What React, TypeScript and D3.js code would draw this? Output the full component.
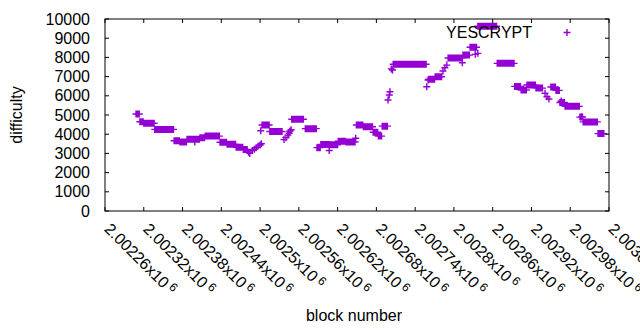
import React from 'react';
import * as d3 from 'd3';

// constant-difficulty stretches: first block, last block, difficulty
const runStart = [
  2002308, 2002314, 2002320, 2002337, 2002367, 2002376, 2002387, 2002407, 2002415, 2002438,
  2002449, 2002463, 2002474, 2002503, 2002515, 2002549, 2002570, 2002588, 2002594, 2002608,
  2002621, 2002633, 2002649, 2002660, 2002675, 2002683, 2002689, 2002706, 2002761, 2002771,
  2002791, 2002814, 2002825, 2002837, 2002867, 2002894, 2002904, 2002913, 2002927, 2002950,
  2002958, 2002964, 2002972, 2002995, 2003000, 2003023,
];
const runEnd = [
  2002313, 2002319, 2002336, 2002366, 2002375, 2002386, 2002406, 2002414, 2002437, 2002448,
  2002462, 2002473, 2002480, 2002514, 2002534, 2002567, 2002587, 2002593, 2002607, 2002620,
  2002632, 2002647, 2002659, 2002674, 2002682, 2002688, 2002697, 2002757, 2002770, 2002781,
  2002813, 2002824, 2002835, 2002866, 2002893, 2002903, 2002912, 2002926, 2002937, 2002957,
  2002963, 2002971, 2002994, 2002999, 2003022, 2003032,
];
const runDifficulty = [
  5050, 4650, 4570, 4250, 3660, 3600, 3740, 3820, 3900, 3580,
  3480, 3320, 3200, 4480, 4140, 4780, 4290, 3300, 3460, 3450,
  3630, 3590, 4480, 4390, 4100, 3900, 4420, 7640, 6860, 6990,
  7970, 8120, 8530, 9620, 7690, 6490, 6300, 6560, 6400, 6460,
  6280, 5650, 5450, 4890, 4640, 4030,
];

// single blocks between the stretches
const pointBlock = [
  2002399, 2002482, 2002484, 2002488, 2002491, 2002494, 2002497, 2002500, 2002501, 2002502,
  2002537, 2002540, 2002543, 2002545, 2002546, 2002548, 2002607, 2002648, 2002698, 2002700,
  2002701, 2002703, 2002705, 2002758, 2002760, 2002783, 2002786, 2002789, 2002813, 2002833,
  2002837, 2002941, 2002944, 2002947, 2002966, 2002998,
];
const pointDifficulty = [
  3600, 3060, 3000, 3150, 3220, 3300, 3380, 3440, 4180, 3500,
  3720, 3820, 3950, 4050, 4150, 4230, 3150, 3790, 5780, 6040,
  6210, 7400, 7340, 6470, 6820, 7290, 7460, 7600, 7720, 8160,
  8210, 6130, 5950, 5830, 5730, 4910,
];

const yTicks = [0, 1000, 2000, 3000, 4000, 5000, 6000, 7000, 8000, 9000, 10000];
const xTicks = [
  2002260, 2002320, 2002380, 2002440, 2002500, 2002560, 2002620, 2002680, 2002740,
  2002800, 2002860, 2002920, 2002980, 2003040,
];

const seriesName = 'YESCRYPT';
const color = '#9400d3';
const font = '"Liberation Sans", Arial, sans-serif';

const left = 105;
const right = 609;
const top = 19;
const bottom = 211;

const plus = (x: number, y: number, r: number) =>
  `M${x - r},${y}H${x + r}M${x},${y - r}V${y + r}`;

export default function App() {
  const x = d3.scaleLinear().domain([2002260, 2003040]).range([left, right]);
  const y = d3.scaleLinear().domain([0, 10000]).range([bottom, top]);

  const points: [number, number][] = [];
  runStart.forEach((s, i) => {
    for (let b = s; b <= runEnd[i]; b++) points.push([b, runDifficulty[i]]);
  });
  pointBlock.forEach((b, i) => points.push([b, pointDifficulty[i]]));

  const markPath = points.map(([b, v]) => plus(x(b), y(v), 3.5)).join('');

  const label = (v: number) => String(parseFloat((v / 1e6).toFixed(5)));

  return (
    <svg
      width={640}
      height={330}
      style={{ position: 'absolute', left: 0, top: 0, background: '#fff' }}
      fontFamily={font}
    >
      <rect width={640} height={330} fill="#fff" />

      <path d={markPath} stroke={color} strokeWidth={1.4} fill="none" />

      {/* frame and ticks */}
      <rect x={left} y={top} width={right - left} height={bottom - top} fill="none" stroke="#000" strokeWidth={1} />
      {yTicks.map((t) => (
        <g key={'y' + t}>
          <line x1={left} x2={left + 4} y1={y(t)} y2={y(t)} stroke="#000" />
          <line x1={right - 4} x2={right} y1={y(t)} y2={y(t)} stroke="#000" />
          <text x={90} y={y(t) + 5.5} textAnchor="end" fontSize={16} fill="#000">
            {t}
          </text>
        </g>
      ))}
      {xTicks.map((t) => (
        <g key={'x' + t}>
          <line x1={x(t)} x2={x(t)} y1={bottom} y2={bottom - 4} stroke="#000" />
          <line x1={x(t)} x2={x(t)} y1={top} y2={top + 4} stroke="#000" />
          <text
            transform={`translate(${x(t) - 1.5},230) rotate(45)`}
            fontSize={16}
            fill="#000"
          >
            {label(t)}x10
            <tspan dx={3} dy={-5} fontSize={12}>6</tspan>
          </text>
        </g>
      ))}

      <text transform="translate(22,115) rotate(-90)" textAnchor="middle" fontSize={16} fill="#000">
        difficulty
      </text>
      <text x={354} y={321} textAnchor="middle" fontSize={16} fill="#000">
        block number
      </text>

      {/* legend */}
      <text x={532} y={37.5} textAnchor="end" fontSize={16} fill="#000">
        {seriesName}
      </text>
      <path d={plus(567, 32.5, 3.5)} stroke={color} strokeWidth={1.4} fill="none" />
    </svg>
  );
}
